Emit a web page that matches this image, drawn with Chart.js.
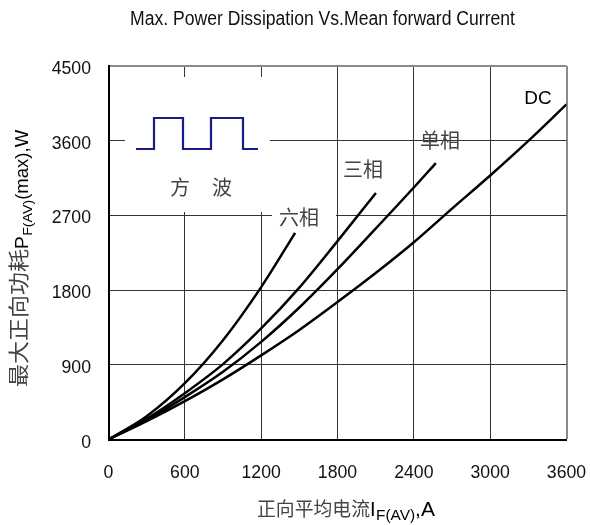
<!DOCTYPE html>
<html><head><meta charset="utf-8">
<script src="https://cdn.jsdelivr.net/npm/chart.js@4"></script>
<style>html,body{margin:0;padding:0;background:#fff}canvas{display:block}</style>
</head><body>
<canvas id="c" width="590" height="525"></canvas>
<script>
// ---- data ----
const xTickValues = [0, 600, 1200, 1800, 2400, 3000, 3600];
const yTickValues = [0, 900, 1800, 2700, 3600, 4500];
const sixPhaseCurrent = [0, 300, 600, 900, 1200, 1467];
const sixPhasePower = [0, 280, 678, 1196, 1836, 2490];
const threePhaseCurrent = [0, 300, 600, 900, 1200, 1500, 1800, 2102];
const threePhasePower = [0, 250, 558, 908, 1338, 1830, 2390, 2970];
const singlePhaseCurrent = [0, 300, 600, 900, 1200, 1500, 1800, 2100, 2400, 2573];
const singlePhasePower = [0, 234, 510, 815, 1176, 1590, 2052, 2541, 3036, 3330];
const dcCurrent = [0, 300, 600, 900, 1200, 1500, 1800, 2100, 2400, 2700, 3000, 3300, 3600];
const dcPower = [0, 220, 462, 725, 1014, 1320, 1656, 2005, 2376, 2781, 3180, 3597, 4038];
const seriesNames = ['六相', '三相', '单相', 'DC'];
const titleText = 'Max. Power Dissipation Vs.Mean forward Current';

const toPts = (xs, ys) => xs.map((x, i) => ({x: x, y: ys[i]}));
const CJK = '"Noto Sans CJK SC"';
const LAT = '"Liberation Sans", Arial, sans-serif';

function txt(ctx, s, x, y, o) {
  o = o || {};
  ctx.save();
  ctx.font = o.font || ('18px ' + LAT);
  ctx.fillStyle = o.color || '#000';
  ctx.textAlign = 'left';
  ctx.textBaseline = o.baseline || 'alphabetic';
  let sx = o.sx || 1;
  const nat = ctx.measureText(s).width;
  if (o.width) sx = o.width / nat;
  const w = nat * sx;
  const x0 = o.align === 'center' ? x - w / 2 : (o.align === 'right' ? x - w : x);
  ctx.translate(x0, y);
  ctx.scale(sx, 1);
  ctx.fillText(s, 0, 0);
  ctx.restore();
  return w;
}

const decor = {
  id: 'decor',
  beforeDatasetsDraw(chart) {
    const ctx = chart.ctx;
    ctx.save();
    ctx.fillStyle = '#fff';
    ctx.fillRect(125, 77, 145, 135);     // inset box
    ctx.fillRect(272, 202, 64, 29);      // 六相 label box
    ctx.fillRect(338, 154, 50, 32);      // 三相 label box
    ctx.restore();
  },
  afterDraw(chart) {
    const ctx = chart.ctx;
    const xs = chart.scales.x, ys = chart.scales.y;
    // title
    txt(ctx, titleText, 322.5, 25, {font: '20px ' + LAT, color: '#111', align: 'center', width: 385});
    // tick labels
    xTickValues.forEach(v => txt(ctx, String(v), xs.getPixelForValue(v), 478, {font: '19px ' + LAT, color: '#111', align: 'center', sx: 0.93}));
    yTickValues.forEach(v => txt(ctx, String(v), 91, ys.getPixelForValue(v) + 8, {font: '19px ' + LAT, color: '#111', align: 'right', sx: 0.93}));
    // x axis title
    let x = 257;
    x += txt(ctx, '正向平均电流', x, 516, {font: '19px ' + CJK, color: '#444', width: 113});
    x += txt(ctx, 'I', x, 516, {font: '20px ' + LAT, color: '#000'}) + 0.5;
    x += txt(ctx, 'F(AV)', x, 520, {font: '14px ' + LAT, color: '#000', sx: 1.1});
    txt(ctx, ',A', x, 516, {font: '20px ' + LAT, color: '#000', sx: 1.05});
    // y axis title (rotated)
    ctx.save();
    ctx.translate(28, 387);
    ctx.rotate(-Math.PI / 2);
    let p = 0;
    p += txt(ctx, '最大正向功耗', p, -2, {font: '21px ' + CJK, color: '#444', width: 138});
    p += txt(ctx, 'P', p, 0, {font: '19px ' + LAT, color: '#000'}) + 0.5;
    p += txt(ctx, 'F(AV)', p, 4, {font: '13px ' + LAT, color: '#000', width: 36});
    txt(ctx, '(max),W', p, 0, {font: '19px ' + LAT, color: '#000', width: 70});
    ctx.restore();
    // inset square wave
    ctx.save();
    ctx.strokeStyle = '#1a1a8a';
    ctx.lineWidth = 2.2;
    ctx.beginPath();
    const lo = 149, hi = 118;
    ctx.moveTo(136, lo); ctx.lineTo(154, lo); ctx.lineTo(154, hi); ctx.lineTo(183, hi);
    ctx.lineTo(183, lo); ctx.lineTo(211, lo); ctx.lineTo(211, hi); ctx.lineTo(243, hi);
    ctx.lineTo(243, lo); ctx.lineTo(258, lo);
    ctx.stroke();
    ctx.restore();
    txt(ctx, '方', 180, 187, {font: '20px ' + CJK, color: '#444', align: 'center', baseline: 'middle'});
    txt(ctx, '波', 222, 187, {font: '20px ' + CJK, color: '#444', align: 'center', baseline: 'middle'});
    // curve labels
    txt(ctx, seriesNames[0], 299, 217, {font: '20px ' + CJK, color: '#444', align: 'center', baseline: 'middle'});
    txt(ctx, seriesNames[1], 363, 169, {font: '20px ' + CJK, color: '#444', align: 'center', baseline: 'middle'});
    txt(ctx, seriesNames[2], 440, 140, {font: '20px ' + CJK, color: '#444', align: 'center', baseline: 'middle'});
    txt(ctx, seriesNames[3], 538, 104, {font: '18px ' + LAT, color: '#000', align: 'center', sx: 1.05});
  }
};

const lineStyle = {borderColor: '#000', borderWidth: 2.5, pointRadius: 0, fill: false, cubicInterpolationMode: 'monotone'};

new Chart(document.getElementById('c'), {
  type: 'line',
  data: {
    datasets: [
      Object.assign({label: seriesNames[0], data: toPts(sixPhaseCurrent, sixPhasePower)}, lineStyle),
      Object.assign({label: seriesNames[1], data: toPts(threePhaseCurrent, threePhasePower)}, lineStyle),
      Object.assign({label: seriesNames[2], data: toPts(singlePhaseCurrent, singlePhasePower)}, lineStyle),
      Object.assign({label: seriesNames[3], data: toPts(dcCurrent, dcPower)}, lineStyle)
    ]
  },
  options: {
    responsive: false,
    animation: false,
    devicePixelRatio: 1,
    layout: {padding: {top: 66, right: 23.5, left: 0, bottom: 0}},
    plugins: {legend: {display: false}, tooltip: {enabled: false}, title: {display: false}},
    scales: {
      x: {
        type: 'linear', min: 0, max: 3600,
        afterBuildTicks: s => { s.ticks = xTickValues.map(v => ({value: v})); },
        ticks: {display: false},
        grid: {drawTicks: false,
               color: c => (c.tick && c.tick.value === 3600) ? '#8a8a8a' : '#333',
               lineWidth: c => (c.tick && c.tick.value === 3600) ? 2 : 1},
        border: {color: '#000', width: 2},
        afterFit: s => { s.height = 525 - 439.5; }
      },
      y: {
        type: 'linear', min: 0, max: 4500,
        afterBuildTicks: s => { s.ticks = yTickValues.map(v => ({value: v})); },
        ticks: {display: false},
        grid: {drawTicks: false,
               color: c => (c.tick && c.tick.value === 4500) ? '#8a8a8a' : '#333',
               lineWidth: c => (c.tick && c.tick.value === 4500) ? 2 : 1},
        border: {color: '#000', width: 2},
        afterFit: s => { s.width = 108.5; }
      }
    }
  },
  plugins: [decor]
});
</script>
</body></html>
